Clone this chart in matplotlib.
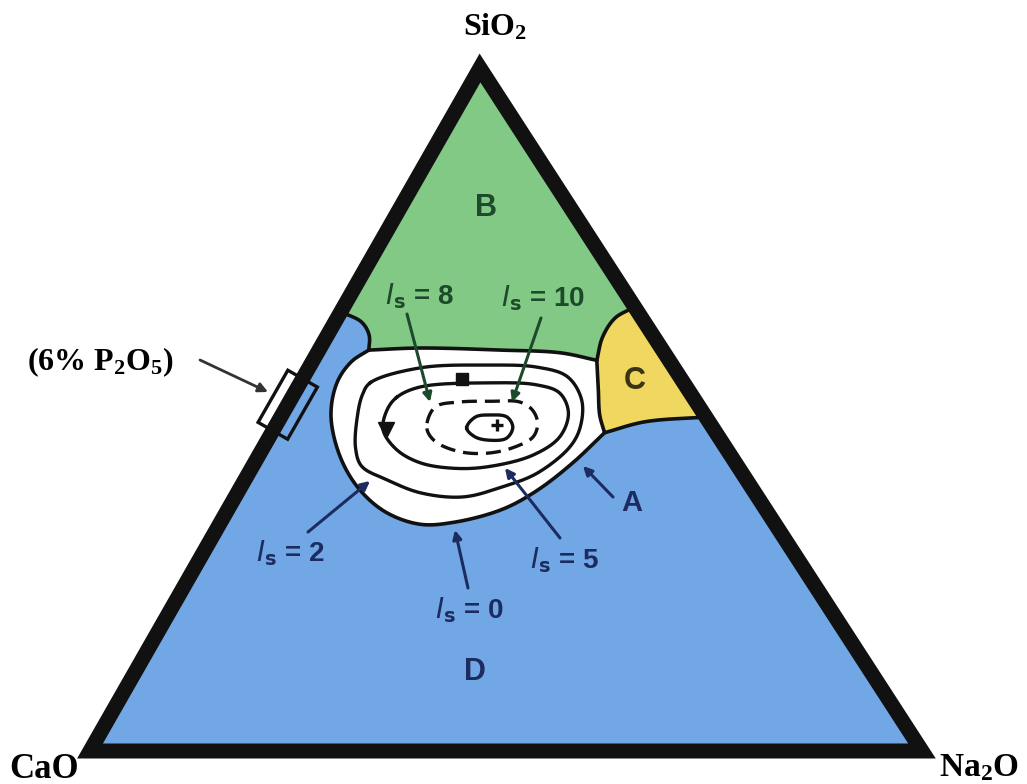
import numpy as np
import matplotlib
matplotlib.use('Agg')
import matplotlib.pyplot as plt
from matplotlib.patches import Polygon

plt.rcParams['mathtext.fontset'] = 'custom'
plt.rcParams['mathtext.rm'] = 'Liberation Serif:bold'
plt.rcParams['mathtext.bf'] = 'Liberation Serif:bold'
plt.rcParams['mathtext.it'] = 'Liberation Serif:bold:italic'
plt.rcParams['mathtext.default'] = 'rm'

# wt% SiO2 / wt% Na2O along each boundary, CaO is the remainder
sliver_si = [64.3, 62.8, 60.9, 58.7]
sliver_na = [0.0, 3.2, 5.0, 6.0]

# B / bioactive zone border, then the C zone borders
top_si = [58.7, 59.0, 58.7, 58.3, 57.2]
top_na = [6.0, 12.0, 21.8, 29.2, 34.1]

c_top_si = [57.2, 60.6, 63.4, 65.0]
c_top_na = [34.1, 33.2, 33.4, 35.0]

c_side_si = [57.2, 52.9, 49.2, 46.6]
c_side_na = [34.1, 36.3, 38.2, 40.0]

c_bot_si = [46.6, 48.2, 48.9]
c_bot_na = [40.0, 44.1, 51.1]

# I_B = 0 border between the bioactive zone and region D
is0_si = [46.6, 42.3, 38.2, 35.4, 33.5, 33.2, 35.0, 38.5, 43.3, 49.2,
          54.0, 57.0, 58.7]
is0_na = [40.0, 38.3, 35.9, 33.0, 28.1, 24.1, 19.1, 14.2, 9.7, 5.9,
          4.4, 4.7, 6.0]

is2_si = [53.9, 56.1, 56.5, 56.2, 54.8, 51.4, 47.4, 44.5, 40.7, 38.7,
          37.2, 37.8, 39.7, 41.7, 44.4, 48.9, 52.1]
is2_na = [8.4, 13.4, 21.2, 27.4, 31.7, 35.0, 36.7, 36.8, 34.7, 31.5,
          27.4, 22.0, 17.1, 13.1, 11.1, 9.2, 8.3]

is5_si = [51.8, 53.3, 53.9, 53.6, 52.4, 49.5, 46.0, 43.3, 41.6, 41.4,
          42.2, 44.1, 47.0, 49.9]
is5_na = [12.6, 14.7, 22.5, 28.6, 31.9, 34.3, 34.9, 32.9, 28.2, 24.2,
          19.9, 16.2, 13.2, 12.3]

is8_si = [48.0, 50.4, 51.1, 51.2, 51.1, 49.9, 48.0, 46.0, 44.4, 43.6,
          43.8, 45.1, 46.6]
is8_na = [18.0, 17.9, 20.5, 24.1, 27.7, 29.8, 31.3, 31.7, 30.0, 27.3,
          24.0, 20.6, 18.8]

is10_si = [47.3, 48.9, 49.2, 48.9, 47.4, 45.8, 45.5, 46.0]
is10_na = [23.1, 23.4, 25.0, 27.2, 28.6, 28.6, 26.7, 24.7]

# single compositions marked inside the zone
square_pt = (54.4, 19.2)
plus_pt = (47.7, 26.5)
arrowhead_pt = (47.0, 13.5)
p2o5_pt = (50.7, 0.0)

# corner positions of the triangle on the page (pixels)
SIO2_XY = (480, 68)
CAO_XY = (90, 751)
NA2O_XY = (922, 751)

BLUE = '#72a7e6'
GREEN = '#82c985'
YELLOW = '#f0d760'
INK = '#111111'
NAVY = '#1c2c60'
DKGREEN = '#1d4a2a'


def tern(si, na):
    s = np.atleast_1d(np.asarray(si, float)) / 100
    n = np.atleast_1d(np.asarray(na, float)) / 100
    c = 1 - s - n
    x = s * SIO2_XY[0] + c * CAO_XY[0] + n * NA2O_XY[0]
    y = s * SIO2_XY[1] + c * CAO_XY[1] + n * NA2O_XY[1]
    return np.column_stack([x, y])


def smooth(pts, closed=False, steps=20, alpha=0.5):
    # centripetal Catmull-Rom curve through the traced points
    p = np.asarray(pts, float)
    if closed:
        ext = np.vstack([p[-1], p, p[0], p[1]])
    else:
        ext = np.vstack([2 * p[0] - p[1], p, 2 * p[-1] - p[-2]])
    out = []
    for i in range(1, len(ext) - 2):
        P0, P1, P2, P3 = ext[i - 1:i + 3]
        t1 = np.linalg.norm(P1 - P0) ** alpha
        t2 = t1 + np.linalg.norm(P2 - P1) ** alpha
        t3 = t2 + np.linalg.norm(P3 - P2) ** alpha
        t = np.linspace(t1, t2, steps, endpoint=False)[:, None]
        A1 = (t1 - t) / t1 * P0 + t / t1 * P1
        A2 = (t2 - t) / (t2 - t1) * P1 + (t - t1) / (t2 - t1) * P2
        A3 = (t3 - t) / (t3 - t2) * P2 + (t - t2) / (t3 - t2) * P3
        B1 = (t2 - t) / t2 * A1 + t / t2 * A2
        B2 = (t3 - t) / (t3 - t1) * A2 + (t - t1) / (t3 - t1) * A3
        out.append((t2 - t) / (t2 - t1) * B1 + (t - t1) / (t2 - t1) * B2)
    out.append(ext[-2][None, :])
    return np.vstack(out)


fig = plt.figure(figsize=(10.27, 7.84), dpi=100)
ax = fig.add_axes([0, 0, 1, 1])
ax.set_xlim(0, 1027)
ax.set_ylim(784, 0)
ax.axis('off')

corners = tern([100, 0, 0], [0, 0, 100])
sliver = smooth(tern(sliver_si, sliver_na))
top = smooth(tern(top_si, top_na))
c_top = smooth(tern(c_top_si, c_top_na))
c_side = smooth(tern(c_side_si, c_side_na))
c_bot = smooth(tern(c_bot_si, c_bot_na))
is0 = smooth(tern(is0_si, is0_na))

# region D fills the whole triangle, the other zones sit on top of it
ax.add_patch(Polygon(corners, closed=True, fc=BLUE, ec='none', zorder=1))
ax.add_patch(Polygon(np.vstack([corners[:1], sliver, top, c_top]),
                     closed=True, fc=GREEN, ec='none', zorder=2))
ax.add_patch(Polygon(np.vstack([c_top, c_bot[::-1], c_side[::-1]]),
                     closed=True, fc=YELLOW, ec='none', zorder=2))
ax.add_patch(Polygon(np.vstack([top, c_side, is0]), closed=True,
                     fc='white', ec='none', zorder=3))
for seg in (sliver, top, c_top, c_side, c_bot, is0):
    ax.plot(seg[:, 0], seg[:, 1], color=INK, lw=2.6, zorder=4,
            solid_capstyle='round')

# iso-I_B contours
for si, na, ls in ((is2_si, is2_na, '-'), (is5_si, is5_na, '-'),
                   (is8_si, is8_na, (0, (4.5, 2.4))), (is10_si, is10_na, '-')):
    ring = smooth(tern(si, na), closed=True)
    ax.plot(ring[:, 0], ring[:, 1], color=INK, lw=2.4, ls=ls, zorder=5)

sq = tern(*square_pt)
ax.plot(sq[:, 0], sq[:, 1], marker='s', ms=8.5, color=INK, zorder=6)
pl = tern(*plus_pt)
ax.plot(pl[:, 0], pl[:, 1], marker='+', ms=9, mew=2.4, color=INK, zorder=6)
ah = tern(*arrowhead_pt)
ax.plot(ah[:, 0], ah[:, 1], marker='v', ms=11, color=INK, zorder=6)

# triangle frame
ax.add_patch(Polygon(corners, closed=True, fill=False, ec=INK, lw=10.8,
                     joinstyle='miter', zorder=7))

# P2O5 marker box straddling the CaO-SiO2 side
u = np.subtract(SIO2_XY, CAO_XY) / np.hypot(*np.subtract(SIO2_XY, CAO_XY))
v = np.array([-u[1], u[0]])
ctr = tern(*p2o5_pt)[0]
box = np.array([ctr - 30 * u - 17 * v, ctr + 30 * u - 17 * v,
                ctr + 30 * u + 17 * v, ctr - 30 * u + 17 * v])
ax.add_patch(Polygon(box, closed=True, fill=False, ec=INK, lw=2.4, zorder=8))

# corner labels
serif = dict(family='Liberation Serif', weight='bold', color='black',
             va='center')
ax.text(495, 27, 'SiO$_2$', ha='center', fontsize=23, **serif)
ax.text(79, 769, 'CaO', ha='right', fontsize=25, **serif)
ax.text(939, 768, 'Na$_2$O', ha='left', fontsize=24, **serif)

ax.text(100, 362, '(6% P$_2$O$_5$)', ha='center', fontsize=23, **serif)
ax.annotate('', xy=(268, 392), xytext=(200, 360),
            arrowprops=dict(arrowstyle='-|>', color='#333333', lw=2,
                            mutation_scale=14, shrinkA=0, shrinkB=0),
            zorder=9)

sans = dict(family='Liberation Sans', weight='bold', ha='center', va='center')
ax.text(486, 208, 'B', fontsize=22, color=DKGREEN, **sans)
ax.text(635, 381, 'C', fontsize=22, color='#3b3413', **sans)
ax.text(475, 672, 'D', fontsize=22, color=NAVY, **sans)

# labelled arrows: text, text position, arrow tail, arrow tip, colour
callouts = [
    ('A', (632, 503), (613, 497), (583, 466), NAVY),
    (r'$\mathit{I}_{\mathbf{s}}$ = 8', (419, 296), (407, 314), (430, 402), DKGREEN),
    (r'$\mathit{I}_{\mathbf{s}}$ = 10', (543, 298), (541, 318), (512, 402), DKGREEN),
    (r'$\mathit{I}_{\mathbf{s}}$ = 2', (290, 553), (308, 532), (370, 481), NAVY),
    (r'$\mathit{I}_{\mathbf{s}}$ = 5', (564, 560), (560, 538), (505, 468), NAVY),
    (r'$\mathit{I}_{\mathbf{s}}$ = 0', (469, 610), (468, 588), (455, 530), NAVY),
]
for label, txy, tail, tip, col in callouts:
    ax.annotate('', xy=tip, xytext=tail,
                arrowprops=dict(arrowstyle='-|>', color=col, lw=2.2,
                                mutation_scale=13, shrinkA=0, shrinkB=0),
                zorder=9)
    ax.text(txy[0], txy[1], label, fontsize=21 if label == 'A' else 20,
            color=col, math_fontfamily='dejavusans', zorder=9, **sans)

fig.savefig('out.png', dpi=100)
